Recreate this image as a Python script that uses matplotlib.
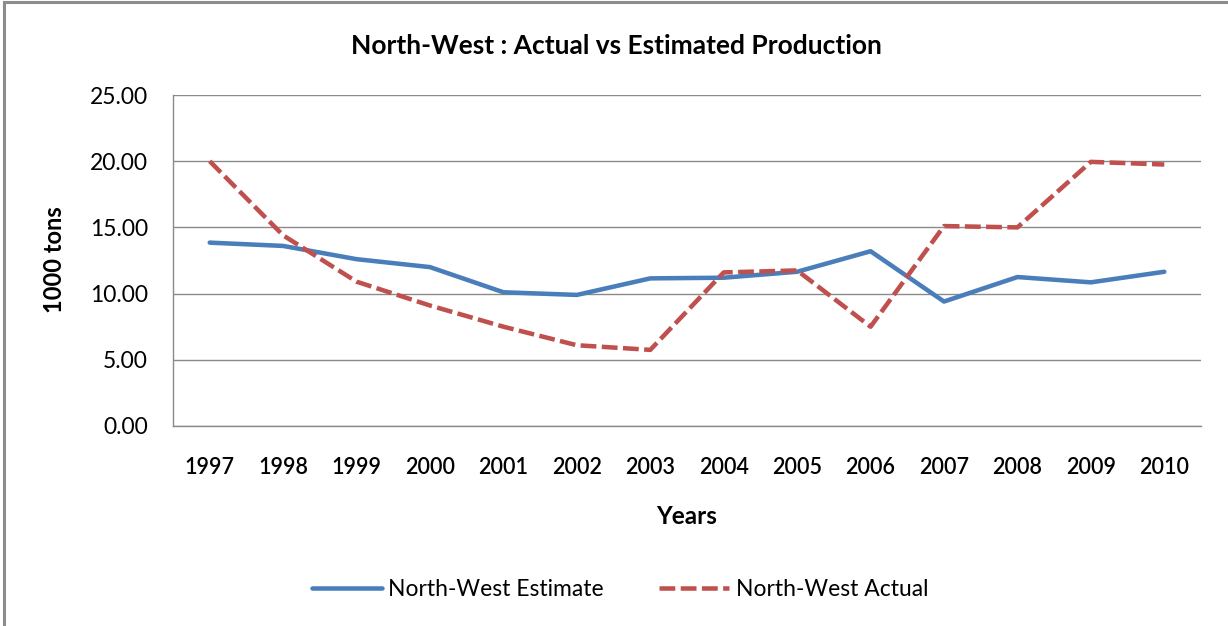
import matplotlib
matplotlib.use("Agg")
import matplotlib.pyplot as plt

# Data
years = ["1997", "1998", "1999", "2000", "2001", "2002", "2003",
         "2004", "2005", "2006", "2007", "2008", "2009", "2010"]
estimate = [13.85, 13.6, 12.6, 12.0, 10.1, 9.9, 11.15,
            11.2, 11.65, 13.2, 9.4, 11.25, 10.85, 11.65]
actual = [20.0, 14.4, 10.9, 9.1, 7.5, 6.1, 5.75,
          11.6, 11.75, 7.5, 15.1, 15.0, 19.95, 19.75]
y_ticks = [0, 5, 10, 15, 20, 25]

FONT = ["Lato", "DejaVu Sans"]
plt.rcParams["font.family"] = FONT

W, H = 1228, 626
fig = plt.figure(figsize=(W / 100, H / 100), dpi=100)
fig.patch.set_facecolor("white")

# chart frame (left and top edges visible)
fig.add_artist(plt.Line2D([4 / W, 4 / W], [0, 1 - 2 / H], transform=fig.transFigure,
                          color="#8c8c8c", lw=2.2))
fig.add_artist(plt.Line2D([4 / W, 1], [1 - 2 / H, 1 - 2 / H], transform=fig.transFigure,
                          color="#8c8c8c", lw=2.2))

left, right, top, bottom = 173, 1201, 95, 426
ax = fig.add_axes([left / W, 1 - bottom / H, (right - left) / W, (bottom - top) / H])

x = list(range(len(years)))
ax.plot(x, estimate, color="#4A7EBB", lw=3.25, solid_capstyle="round",
        solid_joinstyle="round", label="North-West Estimate", zorder=3)
ax.plot(x, actual, color="#C0504D", lw=3.25, dashes=(3.5, 1.2),
        dash_capstyle="butt", dash_joinstyle="round",
        label="North-West Actual", zorder=3)

ax.set_xlim(-0.5, len(years) - 0.5)
ax.set_ylim(0, 25)
ax.set_yticks(y_ticks)
ax.set_yticklabels([f"{v:.2f}" for v in y_ticks])
ax.set_xticks(x)
ax.set_xticklabels(years)
ax.tick_params(axis="both", length=0, colors="#000000")
ax.tick_params(axis="y", pad=18, labelsize=16.5)
ax.tick_params(axis="x", pad=22, labelsize=15.5)
for lbl in ax.get_xticklabels():
    lbl.set_fontweight("semibold")

ax.grid(axis="y", color="#8a8a8a", lw=1.0)
ax.set_axisbelow(True)
for s in ["top", "right"]:
    ax.spines[s].set_visible(False)
for s in ["left", "bottom"]:
    ax.spines[s].set_color("#8a8a8a")
    ax.spines[s].set_linewidth(1.0)

fig.text(616 / W, 1 - 46 / H, "North-West : Actual vs Estimated Production",
         ha="center", va="center", fontsize=19, fontweight="bold")
fig.text(687 / W, 1 - 516 / H, "Years",
         ha="center", va="center", fontsize=17.5, fontweight="bold")
fig.text(55 / W, 1 - 260 / H, "1000 tons", rotation=90,
         ha="center", va="center", fontsize=17, fontweight="bold")

leg = fig.legend(loc="center", bbox_to_anchor=(620 / W, 1 - 590 / H), ncol=2,
                 frameon=False, fontsize=16.5, handlelength=3.05, columnspacing=2.4,
                 handletextpad=0.3)

fig.savefig("out.png", dpi=100, facecolor="white")
